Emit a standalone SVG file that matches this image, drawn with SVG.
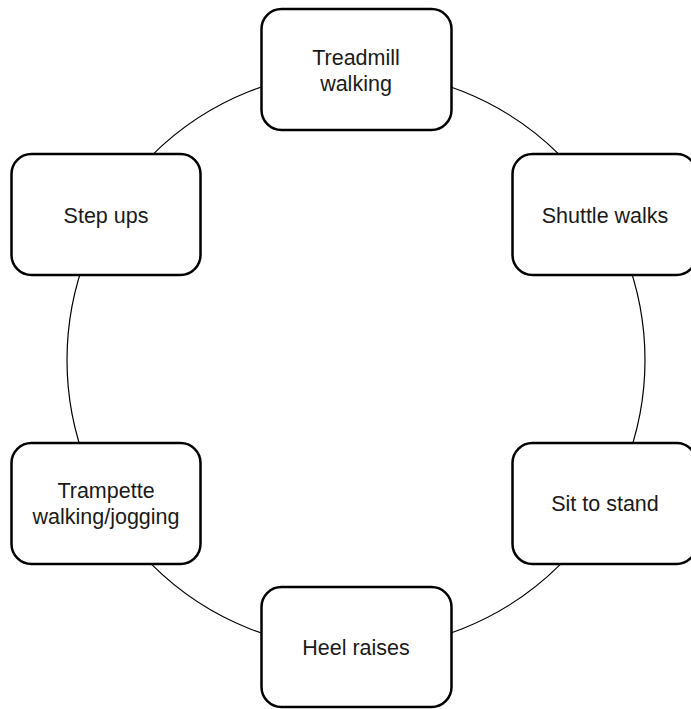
<svg xmlns="http://www.w3.org/2000/svg" width="691" height="709" viewBox="0 0 691 709">
  <style>
    .node rect { fill: #ffffff; stroke: #000000; stroke-width: 2.5; }
    .node text { font-family: "Liberation Sans", Arial, sans-serif; font-size: 21.5px; fill: #1a1a1a; text-anchor: middle; }
    .ring { fill: none; stroke: #000000; stroke-width: 1.2; }
  </style>
  <rect width="691" height="709" fill="#ffffff"/>

  <!-- connectors: one ring running through every station -->
  <g id="connectors">
    <circle class="ring" cx="356" cy="360" r="289"/>
  </g>

  <g id="treadmill" class="node">
    <rect x="261.5" y="9" width="190" height="121" rx="20" ry="20"/>
    <text x="356" y="65">Treadmill</text>
    <text x="356" y="91">walking</text>
  </g>

  <g id="shuttle" class="node">
    <rect x="512.5" y="154" width="184" height="121" rx="20" ry="20"/>
    <text x="605" y="223">Shuttle walks</text>
  </g>

  <g id="sit-to-stand" class="node">
    <rect x="512.5" y="443" width="184" height="121" rx="20" ry="20"/>
    <text x="605" y="511">Sit to stand</text>
  </g>

  <g id="heel-raises" class="node">
    <rect x="261.5" y="587" width="190" height="120" rx="20" ry="20"/>
    <text x="356" y="655">Heel raises</text>
  </g>

  <g id="trampette" class="node">
    <rect x="11.5" y="443" width="189" height="121" rx="20" ry="20"/>
    <text x="106" y="498">Trampette</text>
    <text x="106" y="524">walking/jogging</text>
  </g>

  <g id="step-ups" class="node">
    <rect x="11.5" y="154" width="189" height="121" rx="20" ry="20"/>
    <text x="106" y="223">Step ups</text>
  </g>
</svg>
